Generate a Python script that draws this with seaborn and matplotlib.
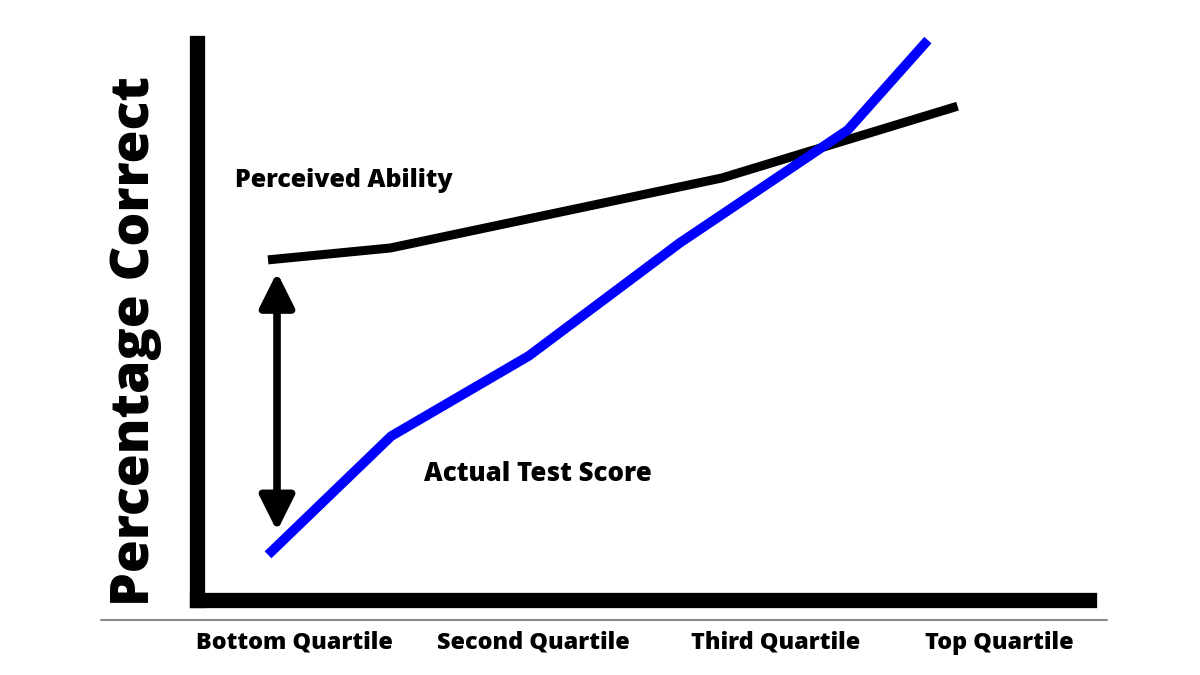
import matplotlib
matplotlib.use("Agg")
import matplotlib.pyplot as plt
import seaborn as sns
import pandas as pd
from matplotlib.lines import Line2D
from matplotlib.patches import FancyArrowPatch

# Position along the skill axis (0-100) and percentage correct (0-100)
perceived_x = [7.9, 21.5, 58.4, 84.6]
perceived_y = [60.2, 62.3, 74.7, 87.4]

actual_x = [7.9, 21.6, 36.9, 53.7, 72.4, 81.3]
actual_y = [8.0, 29.0, 43.2, 63.2, 83.2, 99.1]

quartile_pos = [10.8, 37.4, 64.4, 89.3]
quartile_labels = ["Bottom Quartile", "Second Quartile", "Third Quartile", "Top Quartile"]

gap_x = 8.9
gap_top, gap_bottom = 58.0, 12.2

sns.set_theme(style="white")
plt.rcParams["font.family"] = ["Open Sans", "DejaVu Sans"]
plt.rcParams["text.color"] = "black"
plt.rcParams["xtick.color"] = "black"

fig = plt.figure(figsize=(12, 6.75), dpi=100)
# axes box leaves room for the projecting caps of the thick spines
ax = fig.add_axes([197 / 1200, 75 / 675, (1088.5 - 197) / 1200, (600 - 42.5) / 675])

df_p = pd.DataFrame({"x": perceived_x, "y": perceived_y})
df_a = pd.DataFrame({"x": actual_x, "y": actual_y})
sns.lineplot(data=df_p, x="x", y="y", ax=ax, color="black", linewidth=6.5,
             sort=False, solid_capstyle="butt", solid_joinstyle="round", clip_on=False)
sns.lineplot(data=df_a, x="x", y="y", ax=ax, color="#0000ff", linewidth=7,
             sort=False, solid_capstyle="butt", solid_joinstyle="round", clip_on=False)

ax.set_xlim(0, 100 * 891.5 / 899)
ax.set_ylim(0, 100 * 557.5 / 565)

# Heavy L-shaped axes
for side in ["top", "right"]:
    ax.spines[side].set_visible(False)
for side in ["left", "bottom"]:
    ax.spines[side].set_linewidth(11)
    ax.spines[side].set_color("black")
    ax.spines[side].set_capstyle("projecting")

ax.set_yticks([])
ax.set_xticks(quartile_pos)
ax.set_xticklabels(quartile_labels, fontsize=16.8, fontweight="heavy", color="black")
ax.tick_params(axis="x", length=0, pad=22)
ax.set_xlabel("")
ax.set_ylabel("")

# Double-headed arrow marking the gap between perception and reality
arrow = FancyArrowPatch((gap_x, gap_bottom), (gap_x, gap_top),
                        arrowstyle="<|-|>,head_length=1.5,head_width=0.75",
                        mutation_scale=14, linewidth=5.5, color="black",
                        shrinkA=0, shrinkB=0)
ax.add_patch(arrow)

ax.text(4.2, 74.3, "Perceived Ability", fontsize=18, fontweight="heavy",
        ha="left", va="center", color="black")
ax.text(25.3, 22.3, "Actual Test Score", fontsize=18.5, fontweight="heavy",
        ha="left", va="center", color="black")

fig.text(136 / 1200, 1 - 341 / 675, "Percentage Correct", rotation=90,
         fontsize=38.5, fontweight="heavy", ha="center", va="center", color="black")

# Thin rule under the axes
fig.add_artist(Line2D([101 / 1200, 1107 / 1200], [1 - 620 / 675, 1 - 620 / 675],
                      color="#8a8a8a", linewidth=1.5))

fig.savefig("out.png", dpi=100)
